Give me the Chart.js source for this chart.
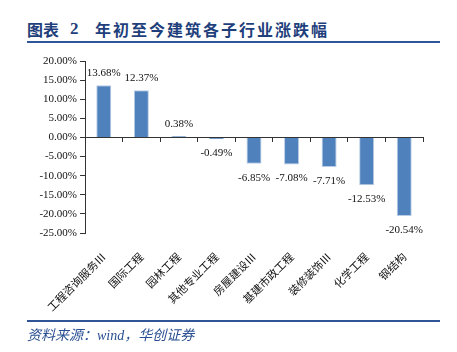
<!DOCTYPE html>
<html>
<head>
<meta charset="utf-8">
<script src="https://cdn.jsdelivr.net/npm/chart.js@4"></script>
<style>
  html, body { margin: 0; padding: 0; background: #fff; }
  body { width: 457px; height: 352px; position: relative; overflow: hidden; }
  #wrap { position: absolute; left: 0; top: 0; width: 457px; height: 352px; }
  .title { position: absolute; top: 19px; font-family: "Noto Sans CJK SC", sans-serif; font-weight: bold; font-size: 16px; color: #1f3f7c; white-space: nowrap; line-height: 20px; }
  .rule { position: absolute; left: 27px; width: 413px; background: #2f5597; }
  .source { position: absolute; left: 27px; top: 327px; font-family: "Liberation Serif", "Noto Sans CJK SC", serif; font-style: italic; font-size: 14px; color: #2a4f92; white-space: nowrap; line-height: 18px; }
</style>
</head>
<body>
<div class="title" style="left:27px">图表</div>
<div class="title" style="left:70px;font-family:'Liberation Serif',serif;font-size:17px">2</div>
<div class="title" style="left:95px;letter-spacing:2px">年初至今建筑各子行业涨跌幅</div>
<div class="rule" style="top:41px;height:2px"></div>
<div id="wrap"><canvas id="chart" width="457" height="352"></canvas></div>
<div class="rule" style="top:320px;height:2px"></div>
<div class="source">资料来源：wind，华创证券</div>

<script>
const categories = ['工程咨询服务Ⅲ', '国际工程', '园林工程', '其他专业工程', '房屋建设Ⅲ', '基建市政工程', '装修装饰Ⅲ', '化学工程', '钢结构'];
const changes = [13.68, 12.37, 0.38, -0.49, -6.85, -7.08, -7.71, -12.53, -20.54];
const yMin = -25, yMax = 20, yStep = 5;

// labels above / below each bar
const barLabels = {
    id: 'barLabels',
    afterDatasetsDraw(chart) {
        const ctx = chart.ctx;
        const meta = chart.getDatasetMeta(0);
        ctx.save();
        ctx.font = '11px "Liberation Serif", serif';
        ctx.fillStyle = '#111';
        ctx.textAlign = 'center';
        ctx.textBaseline = 'middle';
        meta.data.forEach((bar, i) => {
            const v = changes[i];
            const y = v >= 0 ? bar.y - 12 : bar.y + 14;
            ctx.fillText(v.toFixed(2) + '%', bar.x, y);
        });
        ctx.restore();
    }
};

new Chart(document.getElementById('chart'), {
    type: 'bar',
    data: {
        labels: categories,
        datasets: [{
            data: changes,
            backgroundColor: '#4f81bd',
            borderColor: '#b9cde6',
            borderWidth: 1,
            barPercentage: 0.4,
            categoryPercentage: 1.0,
        }]
    },
    options: {
        responsive: false,
        animation: false,
        devicePixelRatio: 1,
        layout: { padding: { top: 61, right: 34, left: 0, bottom: 0 } },
        plugins: { legend: { display: false }, tooltip: { enabled: false } },
        scales: {
            x: {
                position: 'bottom',
                grid: { display: false },
                border: { display: false },
                ticks: {
                    autoSkip: false,
                    maxRotation: 45,
                    minRotation: 45,
                    padding: 9,
                    color: '#111',
                    font: { family: '"Noto Sans CJK SC", sans-serif', size: 11 }
                },
                afterFit(scale) { scale.height = 119; }
            },
            x2: {
                type: 'category',
                position: { y: 0 },
                grid: { offset: true, drawOnChartArea: false, tickLength: 4, color: '#333' },
                border: { color: '#333', width: 1 },
                ticks: { display: false }
            },
            y: {
                min: yMin,
                max: yMax,
                grid: { drawOnChartArea: false, tickLength: 5, color: '#333' },
                border: { color: '#333', width: 1 },
                ticks: {
                    stepSize: yStep,
                    padding: 3,
                    color: '#111',
                    font: { family: '"Liberation Serif", serif', size: 11 },
                    callback: v => v.toFixed(2) + '%'
                },
                afterFit(scale) { scale.width = 85; }
            }
        }
    },
    plugins: [barLabels]
});
</script>
</body>
</html>
